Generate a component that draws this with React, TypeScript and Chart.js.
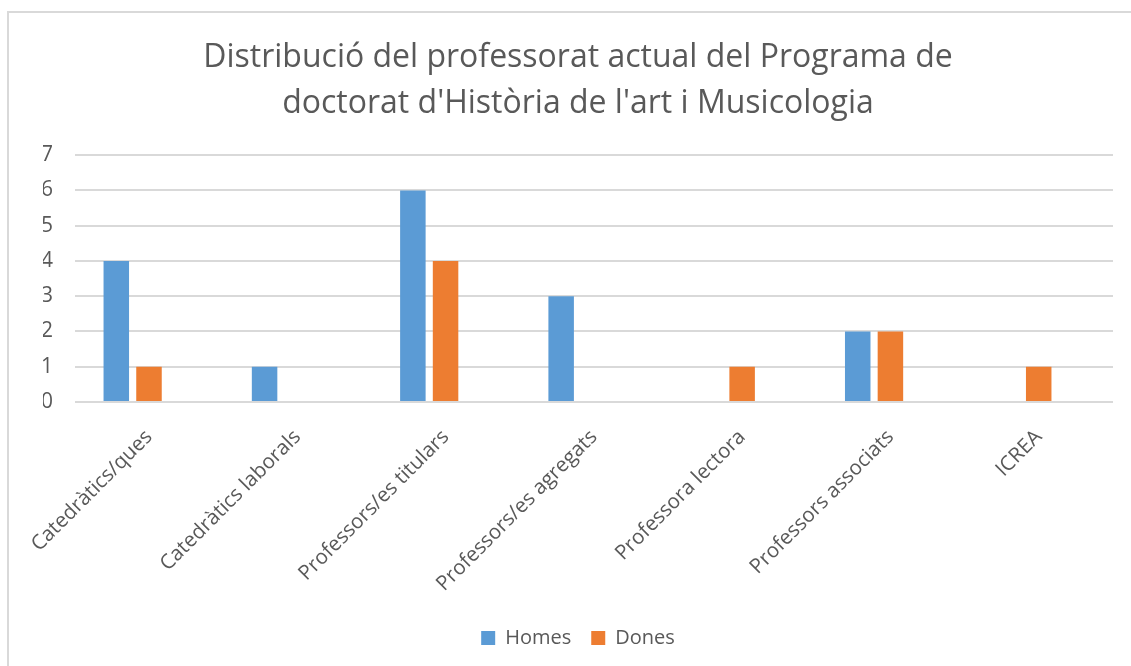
import React, { useEffect, useRef } from "react";
import { Chart, registerables } from "chart.js";

Chart.register(...registerables);

const titleLines = [
  "Distribució del professorat actual del Programa de",
  "doctorat d'Història de l'art i Musicologia",
];
const categories = [
  "Catedràtics/ques",
  "Catedràtics laborals",
  "Professors/es titulars",
  "Professors/es agregats",
  "Professora lectora",
  "Professors associats",
  "ICREA",
];
const seriesNames = ["Homes", "Dones"];
const homes = [4, 1, 6, 3, 0, 2, 0];
const dones = [1, 0, 4, 0, 1, 2, 1];
const yMin = 0;
const yMax = 7;

const TEXT = "#595959";
const FONT = "'Open Sans', 'DejaVu Sans', sans-serif";

const shiftBars = {
  id: "shiftBars",
  beforeDatasetsDraw(chart: any) {
    chart.ctx.save();
    chart.ctx.translate(-16.5, 0);
  },
  afterDatasetsDraw(chart: any) {
    chart.ctx.restore();
  },
};

export default function App() {
  const ref = useRef<HTMLCanvasElement | null>(null);

  useEffect(() => {
    document.body.style.margin = "0";
    document.body.style.overflow = "hidden";
    const ctx = ref.current!.getContext("2d")!;
    const chart = new Chart(ctx, {
      type: "bar",
      data: {
        labels: categories,
        datasets: [
          {
            label: seriesNames[0],
            data: homes,
            backgroundColor: "#5B9BD5",
            borderWidth: 0,
            categoryPercentage: 0.441,
            barPercentage: 0.78,
          },
          {
            label: seriesNames[1],
            data: dones,
            backgroundColor: "#ED7D31",
            borderWidth: 0,
            categoryPercentage: 0.441,
            barPercentage: 0.78,
          },
        ],
      },
      plugins: [shiftBars],
      options: {
        animation: false,
        responsive: false,
        maintainAspectRatio: false,
        layout: { padding: { left: 43, right: 36, top: 0, bottom: 8 } },
        plugins: {
          title: {
            display: true,
            text: titleLines,
            color: TEXT,
            font: { family: FONT, size: 32, weight: "normal", lineHeight: 1.44 },
            padding: { top: 35, bottom: 28 },
          },
          legend: {
            display: true,
            position: "bottom",
            labels: {
              color: TEXT,
              font: { family: FONT, size: 20 },
              boxWidth: 14,
              boxHeight: 14,
              padding: 20,
            },
          },
          tooltip: { enabled: false },
        },
        scales: {
          x: {
            grid: { display: false, drawTicks: false },
            border: { display: false },
            ticks: {
              color: TEXT,
              font: { family: FONT, size: 20.5 },
              minRotation: 45,
              maxRotation: 45,
              autoSkip: false,
              padding: 23,
            },
            afterFit(scale: any) {
              scale.height = 206;
            },
          },
          y: {
            min: yMin,
            max: yMax,
            grid: { color: "#D9D9D9", lineWidth: 2, drawTicks: false },
            border: { display: false },
            ticks: {
              stepSize: 1,
              color: TEXT,
              font: { family: FONT, size: 21 },
              padding: 22,
            },
            afterFit(scale: any) {
              scale.width = 32;
            },
          },
        },
      },
    });
    return () => chart.destroy();
  }, []);

  return (
    <div style={{ position: "relative", width: 1131, height: 666, overflow: "hidden", background: "#fff" }}>
      <canvas ref={ref} width={1149} height={666} style={{ position: "absolute", left: 0, top: 0 }} />
      <div
        style={{
          position: "absolute",
          left: 7,
          top: 11,
          width: 1200,
          height: 700,
          border: "2px solid #D9D9D9",
          boxSizing: "border-box",
          pointerEvents: "none",
        }}
      />
    </div>
  );
}
